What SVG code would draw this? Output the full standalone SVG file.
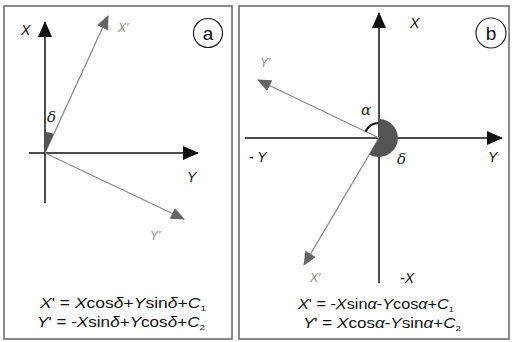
<svg xmlns="http://www.w3.org/2000/svg" width="513" height="342" viewBox="0 0 513 342">
<style>
  .frame{fill:#fff;stroke:#6e6e6e;stroke-width:1.6}
  .axis{stroke:#111;stroke-width:1.5;fill:none}
  .rot{stroke:#8a8a8a;stroke-width:1.3;fill:none}
  .lbl{font-family:"Liberation Sans",Arial,sans-serif;font-style:italic;font-size:14px;fill:#111}
  .glbl{font-family:"Liberation Sans",Arial,sans-serif;font-style:italic;font-size:12px;fill:#8a8a8a}
  .greek{font-family:"DejaVu Serif","Liberation Serif",serif;font-style:italic;font-size:15px;fill:#222}
  .eq{font-family:"Liberation Sans",Arial,sans-serif;font-size:14px;fill:#111}
  .eq .v{font-style:italic}
  .tag{font-family:"Liberation Sans",Arial,sans-serif;font-size:19px;fill:#111}
  .tagc{fill:#fff;stroke:#222;stroke-width:1.2}
</style>
<defs>
  <marker id="ab" markerUnits="userSpaceOnUse" markerWidth="16" markerHeight="14" refX="15" refY="7" orient="auto">
    <path d="M0,0 L16,7 L0,14 Z" fill="#111"/>
  </marker>
  <marker id="ag" markerUnits="userSpaceOnUse" markerWidth="14" markerHeight="12" refX="13" refY="6" orient="auto">
    <path d="M0,0 L14,6 L0,12 Z" fill="#666"/>
  </marker>
</defs>
<rect width="513" height="342" fill="#fff"/>

<g id="panel-a">
  <rect class="frame" x="4" y="6" width="228" height="333"/>
  <g id="tag-a"><circle class="tagc" cx="208" cy="33" r="14.5"/><text class="tag" x="208" y="39.5" text-anchor="middle">a</text></g>
  <g id="connectors-a">
    <line class="axis" x1="45" y1="203" x2="45" y2="22" marker-end="url(#ab)"/>
    <line class="axis" x1="29" y1="153" x2="198" y2="153" marker-end="url(#ab)"/>
    <line class="rot" x1="45" y1="153" x2="108" y2="16" marker-end="url(#ag)"/>
    <line class="rot" x1="45" y1="153" x2="184" y2="219" marker-end="url(#ag)"/>
    <path d="M45,153 L45,132 A21,21 0 0 1 53.8,134 Z" fill="#555"/>
  </g>
  <text class="lbl" x="21" y="35">X</text>
  <text class="glbl" x="118" y="32">X'</text>
  <text class="greek" x="47" y="122">δ</text>
  <text class="lbl" x="187" y="182">Y</text>
  <text class="glbl" x="150" y="240">Y'</text>
  <text class="eq" x="40" y="308" textLength="166" lengthAdjust="spacingAndGlyphs"><tspan class="v">X</tspan>' = <tspan class="v">X</tspan>cos<tspan class="v">δ</tspan>+<tspan class="v">Y</tspan>sin<tspan class="v">δ</tspan>+<tspan class="v">C</tspan><tspan font-size="8" dy="3">1</tspan></text>
  <text class="eq" x="37" y="327" textLength="168" lengthAdjust="spacingAndGlyphs"><tspan class="v">Y</tspan>' = -<tspan class="v">X</tspan>sin<tspan class="v">δ</tspan>+<tspan class="v">Y</tspan>cos<tspan class="v">δ</tspan>+<tspan class="v">C</tspan><tspan font-size="8" dy="3">2</tspan></text>
</g>

<g id="panel-b">
  <rect class="frame" x="239" y="6" width="270" height="333"/>
  <g id="tag-b"><circle class="tagc" cx="491" cy="33" r="15"/><text class="tag" x="491" y="39.5" text-anchor="middle">b</text></g>
  <g id="connectors-b">
    <line class="axis" x1="379" y1="283" x2="379" y2="13" marker-end="url(#ab)"/>
    <line class="axis" x1="245" y1="138" x2="502" y2="138" marker-end="url(#ab)"/>
    <line class="rot" x1="379" y1="138" x2="258" y2="80" marker-end="url(#ag)"/>
    <line class="rot" x1="379" y1="138" x2="304" y2="265" marker-end="url(#ag)"/>
    <path d="M379,138 L379,119 A19,19 0 1 1 369.3,154.4 Z" fill="#555"/>
    <path d="M365.5,131.5 A15,15 0 0 1 379,123" fill="none" stroke="#111" stroke-width="2"/>
  </g>
  <text class="lbl" x="410" y="28">X</text>
  <text class="glbl" x="260" y="67">Y'</text>
  <text class="greek" x="361" y="115">α</text>
  <text class="lbl" x="249" y="162">- Y</text>
  <text class="greek" x="397" y="164">δ</text>
  <text class="lbl" x="488" y="162">Y</text>
  <text class="glbl" x="310" y="282">X'</text>
  <text class="lbl" x="400" y="283">-X</text>
  <text class="eq" x="298" y="309" textLength="156" lengthAdjust="spacingAndGlyphs"><tspan class="v">X</tspan>' = -<tspan class="v">X</tspan>sin<tspan class="v">α</tspan>-<tspan class="v">Y</tspan>cos<tspan class="v">α</tspan>+<tspan class="v">C</tspan><tspan font-size="8" dy="3">1</tspan></text>
  <text class="eq" x="303" y="328" textLength="158" lengthAdjust="spacingAndGlyphs"><tspan class="v">Y</tspan>' = <tspan class="v">X</tspan>cos<tspan class="v">α</tspan>-<tspan class="v">Y</tspan>sin<tspan class="v">α</tspan>+<tspan class="v">C</tspan><tspan font-size="8" dy="3">2</tspan></text>
</g>
</svg>
